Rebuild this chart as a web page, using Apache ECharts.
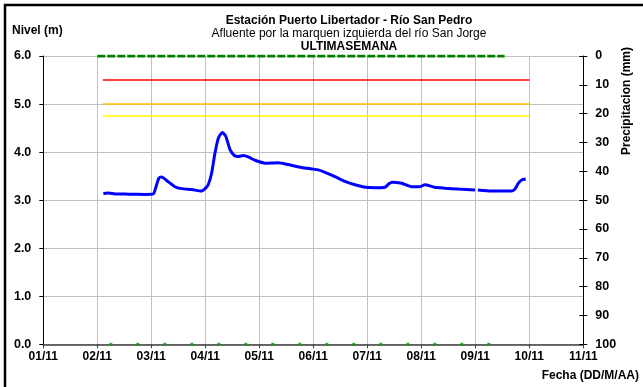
<!DOCTYPE html>
<html>
<head>
<meta charset="utf-8">
<script src="https://cdn.jsdelivr.net/npm/echarts@6/dist/echarts.min.js"></script>
<style>
  html, body { margin: 0; padding: 0; background: #fff; overflow: hidden; }
  #chart { width: 643px; height: 387px; }
</style>
</head>
<body>
<div id="chart"></div>
<script>
// Time is counted in hours from 01/11 00:00.
const dateLabels = ['01/11', '02/11', '03/11', '04/11', '05/11', '06/11', '07/11', '08/11', '09/11', '10/11', '11/11'];

// River level (m)
const levelHours = [26.7, 28.9, 31.9, 37.8, 45.2, 48.9, 50.1, 51.4, 52.6, 54.8, 58.5, 61.5, 66.0, 70.4,
  71.9, 73.3, 74.8, 76.3, 77.8, 79.6, 81.1, 83.0, 84.9, 86.7, 88.9, 91.1, 94.1, 98.5, 104.4, 108.9,
  114.8, 119.3, 122.2, 125.2, 129.6, 134.1, 138.5, 143.0, 147.4, 151.9, 153.6, 155.1, 159.3, 163.7,
  167.4, 169.6, 173.8, 178.5, 184.4, 191.9, 192.5, 193.1, 199.3, 208.2, 209.6, 211.1, 212.6, 214.4];
const levelValues = [3.14, 3.15, 3.13, 3.125, 3.12, 3.13, 3.28, 3.46, 3.48, 3.41, 3.28, 3.24, 3.22, 3.19,
  3.24, 3.32, 3.56, 3.98, 4.29, 4.41, 4.33, 4.05, 3.93, 3.91, 3.93, 3.90, 3.83, 3.77, 3.78, 3.74,
  3.68, 3.65, 3.63, 3.58, 3.49, 3.39, 3.32, 3.27, 3.26, 3.27, 3.34, 3.375, 3.35, 3.28,
  3.28, 3.32, 3.27, 3.25, 3.23, 3.21, null, 3.21, 3.19, 3.19, 3.23, 3.35, 3.42, 3.44];

// Alert levels (m): red, orange, yellow
const alertLevels = [5.5, 5.0, 4.75];
const alertSpanHours = [26.5, 216];

// Precipitation (mm)
const precipHours = [24, 205];
const precipValues = [0, 0];

// Readings plotted on the baseline
const baseMarkHours = [30, 42, 54, 66, 78, 90, 102, 114, 126, 138, 150, 162, 174, 186, 198];
const baseMarkValues = [0, 0, 0, 0, 0, 0, 0, 0, 0, 0, 0, 0, 0, 0, 0];

const FONT = 'Liberation Sans, Arial, sans-serif';
const alertColors = ['#ff0000', '#ffc000', '#ffff00'];

const chart = echarts.init(document.getElementById('chart'), null, { renderer: 'canvas' });

const alertSeries = alertLevels.map((v, i) => ({
  type: 'line',
  yAxisIndex: 0,
  data: alertSpanHours.map(h => [h, v]),
  symbol: 'none',
  lineStyle: { color: alertColors[i], width: 1.5 },
  silent: true,
  z: 3
}));

const textBold = { fontFamily: FONT, fontWeight: 'bold', fontSize: 12, color: '#000' };

chart.setOption({
  animation: false,
  backgroundColor: '#fff',
  title: [
    { text: 'Estación Puerto Libertador - Río San Pedro', left: 344, top: 10, textAlign: 'center',
      textStyle: { fontFamily: FONT, fontWeight: 'bold', fontSize: 12, color: '#000' } },
    { text: 'Afluente por la marquen izquierda del río San Jorge', left: 344, top: 23, textAlign: 'center',
      textStyle: { fontFamily: FONT, fontWeight: 'normal', fontSize: 12, color: '#000' } },
    { text: 'ULTIMASEMANA', left: 344, top: 36, textAlign: 'center',
      textStyle: { fontFamily: FONT, fontWeight: 'bold', fontSize: 12, color: '#000' } }
  ],
  grid: { left: 43.3, right: 59.7, top: 56, bottom: 42.7, containLabel: false },
  xAxis: {
    type: 'value',
    min: 0, max: 240, interval: 24,
    axisLine: { show: true, lineStyle: { color: '#404040', width: 1.5 } },
    axisTick: { show: true, length: 4, lineStyle: { color: '#404040' } },
    splitLine: { show: true, lineStyle: { color: '#c0c0c0', width: 1 } },
    axisLabel: { ...textBold, margin: 6, formatter: v => dateLabels[Math.round(v / 24)] }
  },
  yAxis: [
    {
      type: 'value', position: 'left',
      min: 0, max: 6, interval: 1,
      axisLine: { show: true, lineStyle: { color: '#000', width: 1 } },
      axisTick: { show: true, length: 4, lineStyle: { color: '#000' } },
      splitLine: { show: true, lineStyle: { color: '#c0c0c0', width: 1 } },
      axisLabel: { ...textBold, fontSize: 12.5, margin: 12, formatter: v => v.toFixed(1) }
    },
    {
      type: 'value', position: 'right', inverse: true,
      min: 0, max: 100, interval: 10,
      axisLine: { show: true, lineStyle: { color: '#000', width: 1 } },
      axisTick: { show: true, length: 4, lineStyle: { color: '#000' } },
      splitLine: { show: false },
      axisLabel: { ...textBold, fontSize: 12.5, margin: 12 }
    },
    {
      type: 'value', position: 'right', inverse: true,
      min: 0, max: 100, interval: 10,
      axisLine: { show: false },
      axisTick: { show: true, inside: true, length: 4, lineStyle: { color: '#000' } },
      splitLine: { show: false },
      axisLabel: { show: false }
    }
  ],
  series: [
    ...alertSeries,
    {
      type: 'line',
      yAxisIndex: 1,
      data: precipHours.map((h, i) => [h, precipValues[i]]),
      symbol: 'none',
      lineStyle: { color: '#008000', width: 3, type: [8, 2] },
      z: 4
    },
    {
      type: 'scatter',
      yAxisIndex: 0,
      data: baseMarkHours.map((h, i) => [h, baseMarkValues[i]]),
      symbol: 'rect',
      symbolSize: 3,
      itemStyle: { color: '#00a000' },
      z: 4
    },
    {
      type: 'line',
      yAxisIndex: 0,
      data: levelHours.map((h, i) => [h, levelValues[i] === null ? '-' : levelValues[i]]),
      symbol: 'none',
      smooth: 0.2,
      connectNulls: false,
      lineStyle: { color: '#0000ff', width: 3 },
      z: 5
    }
  ],
  graphic: [
    // Frame: only the left and top edges fall inside the page
    { type: 'polyline', shape: { points: [[5, 900], [5, 5], [1200, 5]] },
      style: { fill: null, stroke: '#000', lineWidth: 2.5 }, silent: true },
    { type: 'text', left: 12, top: 25,
      style: { text: 'Nivel (m)', font: 'bold 12px ' + FONT, fill: '#000' } },
    { type: 'text', x: 627, y: 101, rotation: Math.PI / 2,
      style: { text: 'Precipitacion (mm)', font: 'bold 12px ' + FONT, fill: '#000',
               align: 'center', verticalAlign: 'middle' } },
    { type: 'text', right: 4, top: 370,
      style: { text: 'Fecha (DD/M/AA)', font: 'bold 12px ' + FONT, fill: '#000' } }
  ]
});
</script>
</body>
</html>
